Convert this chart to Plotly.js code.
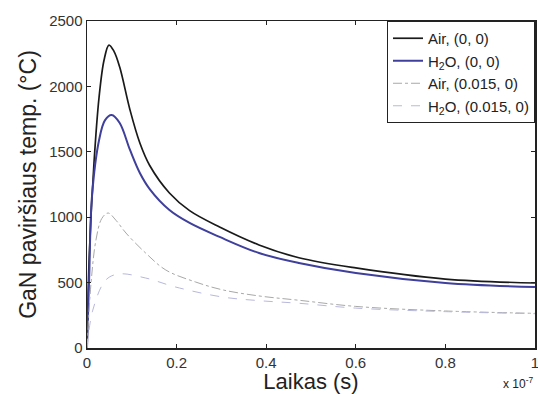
<!DOCTYPE html>
<html>
<head>
<meta charset="utf-8">
<script src="https://cdn.plot.ly/plotly-3.0.1.min.js"></script>
<style>html,body{margin:0;padding:0;background:#fff;}</style>
</head>
<body>
<div id="chart" style="width:538px;height:394px;"></div>
<script>
// time in units of 1e-7 s
const tAir0 = [0, 0.005, 0.0156, 0.027, 0.038, 0.049, 0.06, 0.073, 0.096, 0.118, 0.14, 0.184, 0.229, 0.296, 0.384, 0.473, 0.6, 0.8, 1.0];
const tempAir0 = [0, 700, 1414, 1919, 2200, 2316, 2270, 2148, 1820, 1567, 1395, 1185, 1050, 925, 788, 690, 612, 527, 497];

const tH2O0 = [0, 0.005, 0.011, 0.027, 0.04, 0.055, 0.073, 0.096, 0.118, 0.14, 0.184, 0.229, 0.296, 0.384, 0.473, 0.6, 0.8, 1.0];
const tempH2O0 = [0, 560, 1154, 1590, 1740, 1781, 1720, 1514, 1338, 1215, 1055, 956, 849, 726, 650, 573, 497, 466];

const tAir015 = [0, 0.009, 0.02, 0.033, 0.047, 0.065, 0.087, 0.131, 0.176, 0.242, 0.302, 0.384, 0.473, 0.6, 0.8, 1.0];
const tempAir015 = [0, 497, 826, 990, 1032, 975, 879, 726, 596, 505, 445, 398, 365, 318, 283, 265];

const tH2O015 = [0, 0.013, 0.042, 0.071, 0.131, 0.198, 0.302, 0.384, 0.473, 0.6, 0.8, 1.0];
const tempH2O015 = [0, 290, 520, 566, 535, 466, 390, 362, 342, 305, 278, 262];

const seriesNames = ['Air, (0, 0)', 'H<sub>2</sub>O, (0, 0)', 'Air, (0.015, 0)', 'H<sub>2</sub>O, (0.015, 0)'];
const xTicks = [0, 0.2, 0.4, 0.6, 0.8, 1];
const xTickLabels = ['0', '0.2', '0.4', '0.6', '0.8', '1'];
const yTicks = [0, 500, 1000, 1500, 2000, 2500];

const sp = {shape: 'spline', smoothing: 1};
const traces = [
  {x: tAir0, y: tempAir0, name: seriesNames[0], mode: 'lines', line: Object.assign({color: '#1a1a1a', width: 1.7}, sp)},
  {x: tH2O0, y: tempH2O0, name: seriesNames[1], mode: 'lines', line: Object.assign({color: '#3f3f9c', width: 2}, sp)},
  {x: tAir015, y: tempAir015, name: seriesNames[2], mode: 'lines', line: Object.assign({color: '#a8a8a8', width: 1, dash: 'dashdot'}, sp)},
  {x: tH2O015, y: tempH2O015, name: seriesNames[3], mode: 'lines', line: Object.assign({color: '#b8b8dc', width: 1, dash: 'dash'}, sp)}
];

const axisCommon = {
  showline: true, mirror: 'ticks', linecolor: '#222', linewidth: 1.5,
  ticks: 'inside', ticklen: 4, tickcolor: '#222', showgrid: false, zeroline: false,
  ticklabeloverflow: 'allow',
  tickfont: {family: 'Liberation Sans, Arial, sans-serif', size: 15, color: '#333'}
};

const layout = {
  width: 538, height: 394,
  margin: {l: 87, r: 3, t: 21, b: 46},
  paper_bgcolor: '#fff', plot_bgcolor: '#fff',
  font: {family: 'Liberation Sans, Arial, sans-serif', color: '#222'},
  xaxis: Object.assign({}, axisCommon, {
    range: [0, 1.0001], tickvals: xTicks, ticktext: xTickLabels,
    title: {text: 'Laikas (s)', font: {size: 22, color: '#222'}, standoff: 0}
  }),
  yaxis: Object.assign({}, axisCommon, {
    range: [0, 2500], tickvals: yTicks,
    title: {text: 'GaN paviršiaus temp. (°C)', font: {size: 23, color: '#222'}, standoff: 6}
  }),
  legend: {
    x: 1, y: 1, xanchor: 'right', yanchor: 'top',
    bgcolor: '#fff', bordercolor: '#222', borderwidth: 1,
    font: {size: 15, color: '#222'}, tracegroupgap: 0
  },
  annotations: [{
    text: 'x 10<sup>-7</sup>', xref: 'paper', yref: 'paper', x: 1, y: 0,
    xanchor: 'right', yanchor: 'top', yshift: -25, showarrow: false,
    font: {size: 12, color: '#222'}
  }]
};

Plotly.newPlot('chart', traces, layout, {displayModeBar: false, staticPlot: true});
</script>
</body>
</html>
